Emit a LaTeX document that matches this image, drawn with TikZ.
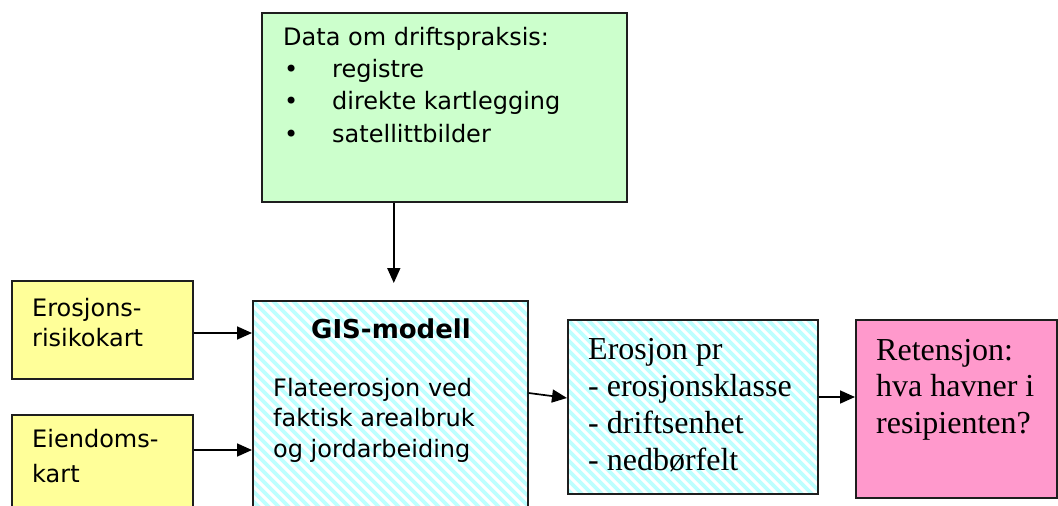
\documentclass[tikz,border=0pt]{standalone}
\usepackage{fontspec}
\setmainfont{Liberation Serif}
\newfontfamily\sfont{DejaVu Sans}
\usetikzlibrary{arrows.meta}
\definecolor{ylw}{HTML}{FFFF99}
\definecolor{grn}{HTML}{CCFFCC}
\definecolor{pnk}{HTML}{FF99CC}
\definecolor{hatchc}{HTML}{BDFFFF}
\definecolor{edge}{HTML}{1E1E1E}
\tikzset{
 box/.style={draw=edge, line width=1.6pt, rectangle, anchor=north west, inner sep=0pt},
 arr/.style={-{Triangle[length=15pt,width=13pt]}, line width=1.7pt, draw=black},
 sftext/.style={font=\sfont\fontsize{24}{30}\selectfont, align=left, anchor=base west, inner sep=0pt},
 serif/.style={font=\fontsize{32}{37}\selectfont, align=left, anchor=base west, inner sep=0pt},
}
\newcommand\hatchfill[4]{%
 \begin{scope}
 \clip (#1,#2) rectangle (#3,#4);
 \fill[white] (#1,#2) rectangle (#3,#4);
 \foreach \k in {-35,...,50} {\draw[hatchc, line width=3.6pt] ({#1+\k*10},#2) -- ++(300,300);}
 \end{scope}}
\begin{document}
\begin{tikzpicture}[x=1pt,y=-1pt]
\useasboundingbox (0,0) rectangle (1058,506);
\fill[white] (0,0) rectangle (1058,506);
% hatch backgrounds
\hatchfill{252}{300}{527}{520}
\hatchfill{567}{319}{817}{493}
% boxes
\node[box, fill=grn, minimum width=365pt, minimum height=189pt] (data) at (261,12) {};
\node[box, minimum width=275pt, minimum height=220pt] (gis) at (252,300) {};
\node[box, fill=ylw, minimum width=181pt, minimum height=98pt] (y1) at (11,280) {};
\node[box, fill=ylw, minimum width=181pt, minimum height=106pt] (y2) at (11,414) {};
\node[box, minimum width=250pt, minimum height=174pt] (ero) at (567,319) {};
\node[box, fill=pnk, minimum width=201pt, minimum height=178pt] (ret) at (855,319) {};
% texts (base anchor = baseline of the last line)
\node[sftext, font=\sfont\fontsize{24}{32.3}\selectfont] (tdata) at (283,142)
 {Data om driftspraksis:\\
  \makebox[49pt][l]{\hspace{1pt}•}registre\\
  \makebox[49pt][l]{\hspace{1pt}•}direkte kartlegging\\
  \makebox[49pt][l]{\hspace{1pt}•}satellittbilder};
\node[sftext] (ty1) at (32,346) {Erosjons-\\risikokart};
\node[sftext, font=\sfont\fontsize{24}{35}\selectfont] (ty2) at (32,482) {Eiendoms-\\kart};
\node[font=\sfont\bfseries\fontsize{26}{30}\selectfont, anchor=base, inner sep=0pt] (tgis) at (391,338) {GIS-modell};
\node[sftext, font=\sfont\fontsize{24}{30.5}\selectfont] (tgis2) at (273,457) {Flateerosjon ved\\faktisk arealbruk\\og jordarbeiding};
\node[serif] (tero) at (588,470) {Erosjon pr\\- erosjonsklasse\\- driftsenhet\\- nedbørfelt};
\node[serif, font=\fontsize{32}{36.5}\selectfont] (tret) at (876,433) {Retensjon:\\hva havner i\\resipienten?};
% arrows
\draw[arr, shorten >=17pt] ([xshift=-50.5pt]data.south) -- ([xshift=-50.5pt]data.south |- gis.north);
\draw[arr] ([yshift=-53pt]y1.north east) -- ([yshift=-53pt]y1.north east -| gis.west);
\draw[arr] ([yshift=-36pt]y2.north east) -- ([yshift=-36pt]y2.north east -| gis.west);
\draw[arr] ([yshift=-93pt]gis.north east) -- ([yshift=-79pt]ero.north west);
\draw[arr] ([yshift=-78pt]ero.north east) -- ([yshift=-78pt]ero.north east -| ret.west);
\end{tikzpicture}
\end{document}
